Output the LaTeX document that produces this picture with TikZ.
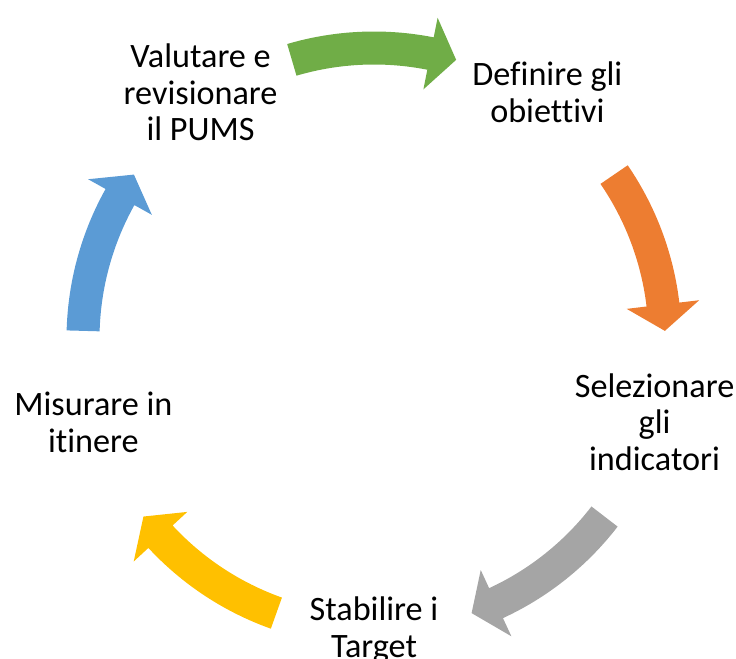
\documentclass[tikz,border=0pt]{standalone}
\usepackage{fontspec}
\setmainfont{Carlito}[Ligatures=NoCommon]
\usepackage{tikz}
\usetikzlibrary{calc}

\definecolor{accgreen}{HTML}{70AD47}
\definecolor{accorange}{HTML}{ED7D31}
\definecolor{accgray}{HTML}{A5A5A5}
\definecolor{accyellow}{HTML}{FFC000}
\definecolor{accblue}{HTML}{5B9BD5}

\begin{document}
\begin{tikzpicture}[x=0.5pt, y=0.5pt]
        \tikzstyle{stage} = [align=center, font=\fontsize{17.1}{18.3}\selectfont, inner sep=0pt]

        \useasboundingbox (0,0) rectangle (736,659);
        \clip (0,0) rectangle (736,659);
        \coordinate (c) at (374,320);
        \coordinate (tc) at (374,328);

        \node [stage] (valutare) at ($(tc)+(126:295)$) {Valutare e\\revisionare\\il PUMS};
        \node [stage] (definire) at ($(tc)+(54:295)$) {Definire gli\\obiettivi};
        \node [stage] (selezionare) at ($(tc)+(-18:295)$) {Selezionare\\gli\\indicatori};
        \node [stage] (stabilire) at ($(tc)+(-90:299)$) {Stabilire i\\Target};
        \node [stage] (misurare) at ($(tc)+(-162:295)$) {Misurare in\\itinere};

        % curved block arrows on the circle
        \foreach \m/\col in {90/accgreen, 18/accorange, -54/accgray, -126/accyellow, 162/accblue} {
            \fill [\col] ($(c)+(\m+16.4:307.5)$) arc [start angle=\m+16.4, end angle=\m-11.2, radius=307.5]
                -- ($(c)+(\m-11.2:327.5)$) -- ($(c)+(\m-16.4:291)$) -- ($(c)+(\m-11.2:254.5)$)
                -- ($(c)+(\m-11.2:274.5)$) arc [start angle=\m-11.2, end angle=\m+16.4, radius=274.5] -- cycle;
        }
    \end{tikzpicture}
\end{document}
